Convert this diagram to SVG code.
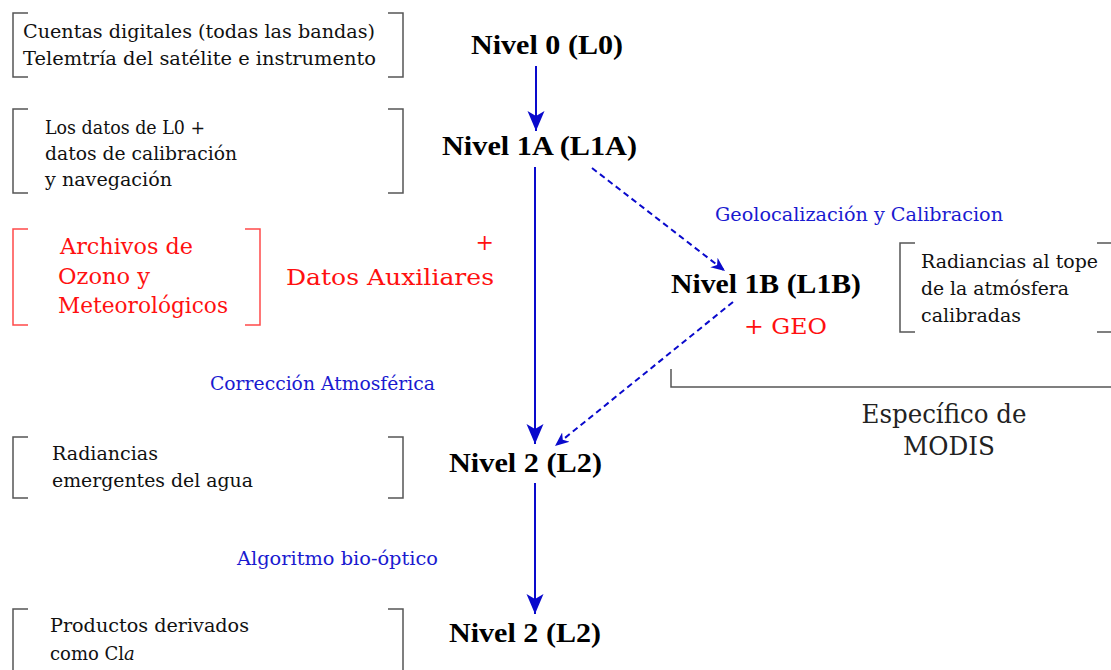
<svg xmlns="http://www.w3.org/2000/svg" width="1111" height="670" viewBox="0 0 1111 670">
  <style>
    .body { font-family: "DejaVu Serif", "Liberation Serif", serif; font-size: 18px; fill: #111; }
    .lvl { font-family: "Liberation Serif", "DejaVu Serif", serif; font-size: 28px; font-weight: bold; fill: #000; }
    .step { font-family: "DejaVu Serif", "Liberation Serif", serif; font-size: 18.5px; fill: #1a1ad0; }
    .aux { font-family: "DejaVu Serif", "Liberation Serif", serif; font-size: 22px; fill: #ff1010; }
    .big { font-family: "DejaVu Serif", "Liberation Serif", serif; font-size: 26px; fill: #222; }
    .brk { fill: none; stroke: #555; stroke-width: 1.5; }
    .brk-red { fill: none; stroke: #ff4a4a; stroke-width: 1.5; }
    .flow { fill: none; stroke: #0a0acc; stroke-width: 2; }
    .flow-dash { fill: none; stroke: #0a0acc; stroke-width: 2; stroke-dasharray: 6 4; }
  </style>
  <defs>
    <marker id="head" markerUnits="userSpaceOnUse" markerWidth="22" markerHeight="20" refX="20" refY="9" orient="auto">
      <path d="M20,9 L0,0.5 L5,9 L0,17.5 Z" fill="#0a0acc"/>
    </marker>
    <marker id="head-small" markerUnits="userSpaceOnUse" markerWidth="16" markerHeight="14" refX="14" refY="7" orient="auto">
      <path d="M14,7 L0,1 L4,7 L0,13 Z" fill="#0a0acc"/>
    </marker>
  </defs>

  <rect width="1111" height="670" fill="#fff"/>

  <!-- connectors -->
  <g id="connectors">
    <line class="flow" x1="536" y1="66" x2="536" y2="131" marker-end="url(#head)"/>
    <line class="flow" x1="535" y1="167" x2="535" y2="444" marker-end="url(#head)"/>
    <line class="flow" x1="535" y1="483" x2="535" y2="614" marker-end="url(#head)"/>
    <line class="flow-dash" x1="592" y1="168" x2="725" y2="271" marker-end="url(#head-small)"/>
    <line class="flow-dash" x1="733" y1="302" x2="555" y2="446" marker-end="url(#head-small)"/>
  </g>

  <!-- processing levels -->
  <g id="level-l0">
    <text class="lvl" x="471" y="54" textLength="152" lengthAdjust="spacingAndGlyphs">Nivel 0 (L0)</text>
  </g>
  <g id="level-l1a">
    <text class="lvl" x="442" y="155" textLength="195" lengthAdjust="spacingAndGlyphs">Nivel 1A (L1A)</text>
  </g>
  <g id="level-l1b">
    <text class="lvl" x="671" y="293" textLength="190" lengthAdjust="spacingAndGlyphs">Nivel 1B (L1B)</text>
    <text class="aux" x="744" y="334" font-size="25" textLength="83" lengthAdjust="spacingAndGlyphs">+ GEO</text>
  </g>
  <g id="level-l2">
    <text class="lvl" x="449" y="472" textLength="153" lengthAdjust="spacingAndGlyphs">Nivel 2 (L2)</text>
  </g>
  <g id="level-l2-products">
    <text class="lvl" x="449" y="642" textLength="152" lengthAdjust="spacingAndGlyphs">Nivel 2 (L2)</text>
  </g>

  <!-- step labels -->
  <g id="step-geo">
    <text class="step" x="715" y="221" textLength="288" lengthAdjust="spacingAndGlyphs">Geolocalización y Calibracion</text>
  </g>
  <g id="step-atm">
    <text class="step" x="210" y="390" textLength="225" lengthAdjust="spacingAndGlyphs">Corrección Atmosférica</text>
  </g>
  <g id="step-bio">
    <text class="step" x="237" y="565" textLength="201" lengthAdjust="spacingAndGlyphs">Algoritmo bio-óptico</text>
  </g>

  <!-- descriptions -->
  <g id="desc-l0">
    <path class="brk" d="M28,13 H13 V77 H28 M388,13 H403 V77 H388"/>
    <text class="body" x="23" y="38" textLength="352" lengthAdjust="spacingAndGlyphs">Cuentas digitales (todas las bandas)</text>
    <text class="body" x="23" y="65" textLength="353" lengthAdjust="spacingAndGlyphs">Telemtría del satélite e instrumento</text>
  </g>
  <g id="desc-l1a">
    <path class="brk" d="M28,109 H13 V193 H28 M388,109 H403 V193 H388"/>
    <text class="body" x="45" y="134" textLength="160" lengthAdjust="spacingAndGlyphs">Los datos de L0 +</text>
    <text class="body" x="45" y="160" textLength="192" lengthAdjust="spacingAndGlyphs">datos de calibración</text>
    <text class="body" x="45" y="186" textLength="127" lengthAdjust="spacingAndGlyphs">y navegación</text>
  </g>
  <g id="aux-data">
    <path class="brk-red" d="M28,229 H13 V325 H28 M245,229 H260 V325 H245"/>
    <text class="aux" x="60" y="254" textLength="133" lengthAdjust="spacingAndGlyphs">Archivos de</text>
    <text class="aux" x="58" y="284" textLength="92" lengthAdjust="spacingAndGlyphs">Ozono y</text>
    <text class="aux" x="58" y="313" textLength="170" lengthAdjust="spacingAndGlyphs">Meteorológicos</text>
    <text class="aux" x="494" y="250" font-size="24" text-anchor="end">+</text>
    <text class="aux" x="286" y="285" font-size="24" textLength="208" lengthAdjust="spacingAndGlyphs">Datos Auxiliares</text>
  </g>
  <g id="desc-l1b">
    <path class="brk" d="M915,243 H900 V332 H915 M1097,243 H1112 V332 H1097"/>
    <text class="body" x="921" y="268" textLength="177" lengthAdjust="spacingAndGlyphs">Radiancias al tope</text>
    <text class="body" x="921" y="295" textLength="148" lengthAdjust="spacingAndGlyphs">de la atmósfera</text>
    <text class="body" x="921" y="322" textLength="100" lengthAdjust="spacingAndGlyphs">calibradas</text>
  </g>
  <g id="modis-scope">
    <path class="brk" d="M671,369 V387 H1112"/>
    <text class="big" x="944" y="423" text-anchor="middle" textLength="165" lengthAdjust="spacingAndGlyphs">Específico de</text>
    <text class="big" x="949" y="455" text-anchor="middle" textLength="92" lengthAdjust="spacingAndGlyphs">MODIS</text>
  </g>
  <g id="desc-l2">
    <path class="brk" d="M28,437 H13 V498 H28 M388,437 H403 V498 H388"/>
    <text class="body" x="52" y="460" textLength="106" lengthAdjust="spacingAndGlyphs">Radiancias</text>
    <text class="body" x="52" y="487" textLength="201" lengthAdjust="spacingAndGlyphs">emergentes del agua</text>
  </g>
  <g id="desc-products">
    <path class="brk" d="M28,609 H13 V672 M388,609 H403 V672"/>
    <text class="body" x="50" y="632" textLength="199" lengthAdjust="spacingAndGlyphs">Productos derivados</text>
    <text class="body" x="50" y="660">como Cl<tspan font-style="italic">a</tspan></text>
  </g>
</svg>
